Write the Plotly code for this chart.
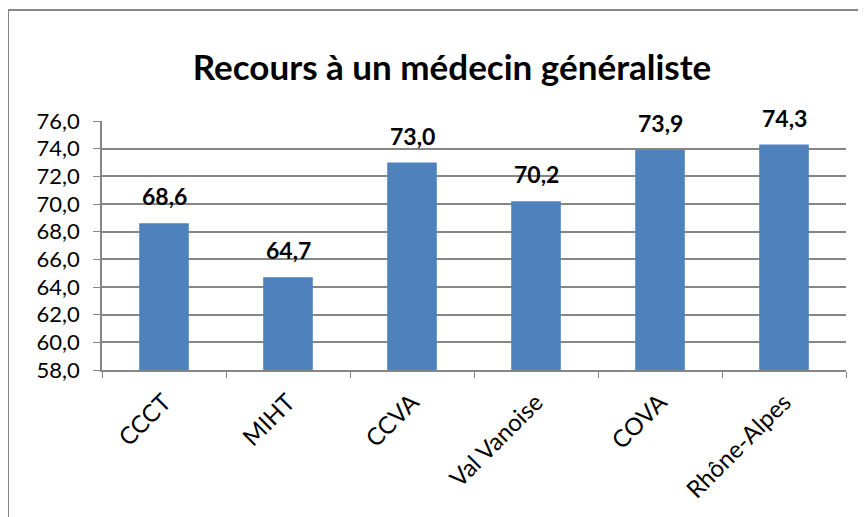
import plotly.graph_objects as go

categories = ["CCCT", "MIHT", "CCVA", "Val Vanoise", "COVA", "Rhône-Alpes"]
values = [68.6, 64.7, 73.0, 70.2, 73.9, 74.3]
y_ticks = [58, 60, 62, 64, 66, 68, 70, 72, 74, 76]

FONT = "Lato, 'Open Sans', sans-serif"
# page has an 8px body margin, so the figure is drawn at (8, 8)
W, H = 858, 509
L, T = 94, 113
pw, ph = 744, 249
R, B = W - L - pw, H - T - ph

fig = go.Figure()
fig.add_trace(go.Bar(
    x=categories, y=values, width=0.4,
    marker=dict(color="#4F81BD", line=dict(width=0)),
    hoverinfo="skip",
))
for c, v in zip(categories, values):
    fig.add_annotation(
        x=c, y=v, text=f"<b>{v:.1f}</b>".replace(".", ","),
        showarrow=False, yanchor="bottom", yshift=11,
        font=dict(family=FONT, size=23, color="#000000"),
    )

# chart-area border
fig.add_shape(type="rect", xref="paper", yref="paper",
              x0=(0 - L) / pw, x1=(W + 20 - L) / pw,
              y0=-(H + 20 - T - ph) / ph, y1=1 + (T - 2) / ph,
              line=dict(color="#868686", width=2), layer="below")

fig.update_layout(
    width=W, height=H,
    margin=dict(l=L, r=R, t=T, b=B, autoexpand=False),
    paper_bgcolor="white", plot_bgcolor="white",
    separators=", ",
    showlegend=False,
    title=dict(text="<b>Recours à un médecin généraliste</b>",
               x=444 / W, xanchor="center", y=1 - 60 / H, yanchor="middle",
               font=dict(family=FONT, size=35, color="#000000")),
    xaxis=dict(
        tickangle=-45, tickson="boundaries", ticks="outside", ticklen=6,
        tickcolor="#868686", showline=True, linecolor="#868686", linewidth=1.5,
        showgrid=False, tickfont=dict(family=FONT, size=24, color="#000000"),
        ticklabelstandoff=7,
        range=[-0.5, len(categories) - 0.5],
    ),
    yaxis=dict(
        range=[58, 76], tickvals=y_ticks, tickformat=".1f",
        ticks="outside", ticklen=7, tickcolor="#868686",
        showline=True, linecolor="#868686", linewidth=1.5,
        showgrid=True, gridcolor="#868686", gridwidth=1.5,
        tickfont=dict(family=FONT, size=22, color="#000000"),
        ticklabelstandoff=9,
        zeroline=False,
    ),
)

fig.write_html("out.html")
